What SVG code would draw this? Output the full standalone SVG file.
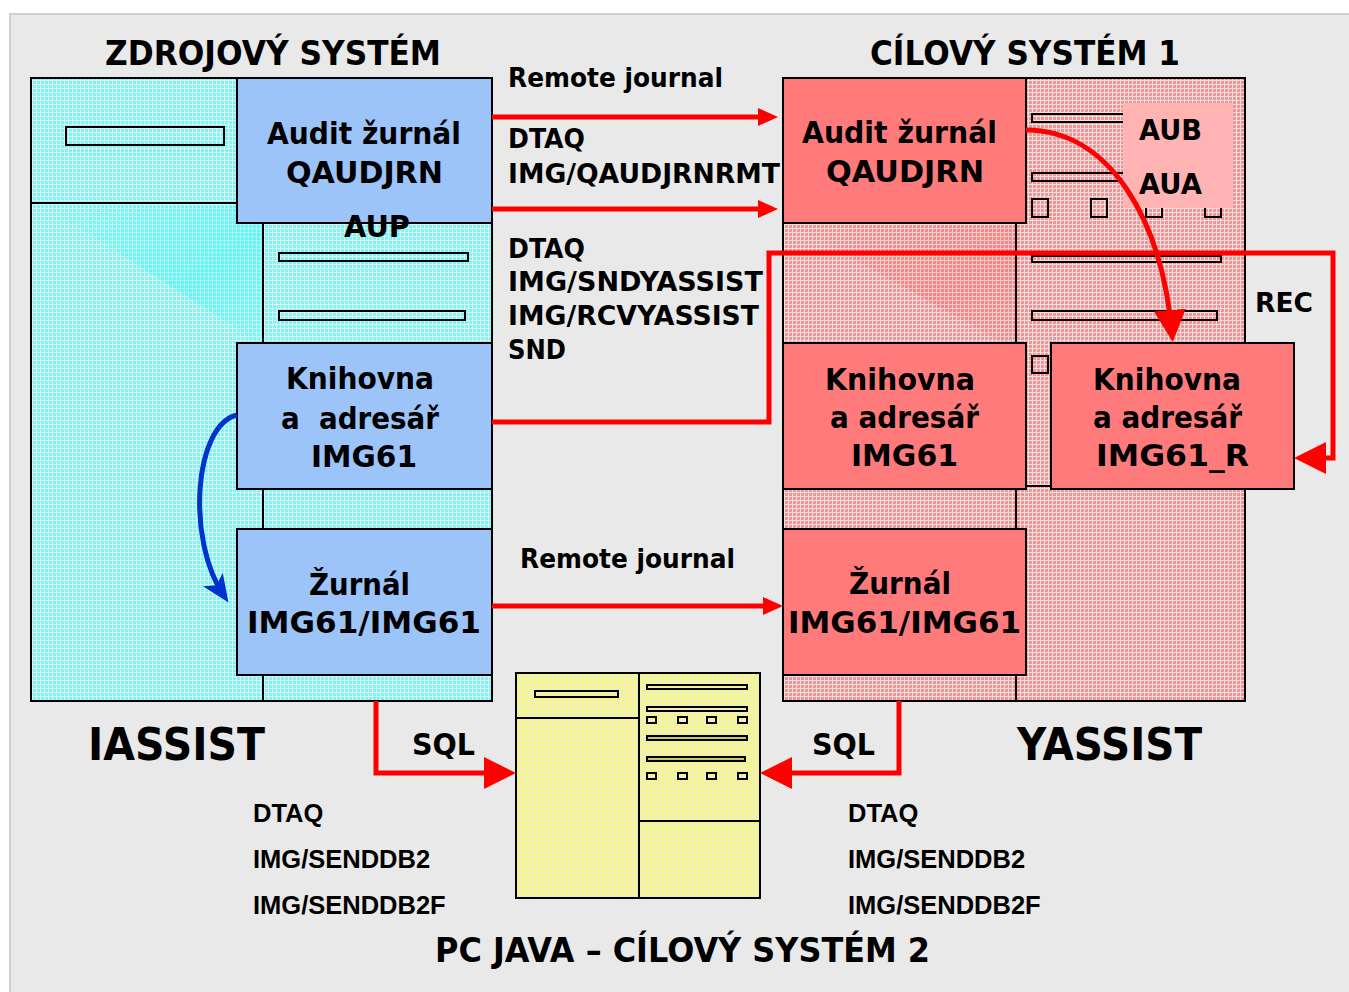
<svg xmlns="http://www.w3.org/2000/svg" width="1349" height="992" viewBox="0 0 1349 992">
<style>
.t{font-family:"DejaVu Sans",Verdana,sans-serif;font-weight:bold;fill:#000}
.a{font-family:"Liberation Sans",Arial,sans-serif;font-weight:bold;font-size:25.5px;fill:#000}
.box{stroke:#000;stroke-width:2}
.blue{fill:#9cc4f9}
.pink{fill:#ff7b7b}
.ln{fill:none;stroke:#000;stroke-width:2}
.bar{stroke:#000;stroke-width:2}
.red{fill:none;stroke:#ff0000;stroke-width:5}
.bx{font-size:30px}
.lb{font-size:27px}
.ti{font-size:34px}
.big{font-size:44px}
.sq{font-size:30px}
</style>
<defs>
<pattern id="pc" width="4" height="4" patternUnits="userSpaceOnUse"><rect width="4" height="4" fill="#80f4f4"/><path d="M0,0.5H4M0.5,0V4" stroke="#d8f4f4" stroke-width="1"/></pattern>
<pattern id="pp" width="4" height="4" patternUnits="userSpaceOnUse"><rect width="4" height="4" fill="#f49393"/><path d="M0,0.5H4M0.5,0V4" stroke="#f5dede" stroke-width="1"/></pattern>
<pattern id="py" width="4" height="4" patternUnits="userSpaceOnUse"><rect width="4" height="4" fill="#f6f67a"/><path d="M0,0.5H4M0.5,0V4" stroke="#eeeed8" stroke-width="1"/></pattern>
<linearGradient id="gc" x1="0" y1="0" x2="1" y2="1"><stop offset="0" stop-color="#00f0f0" stop-opacity="0"/><stop offset="0.6" stop-color="#00f0f0" stop-opacity="0.22"/><stop offset="1" stop-color="#00f0f0" stop-opacity="0.05"/></linearGradient>
<linearGradient id="gp" x1="0" y1="0" x2="1" y2="1"><stop offset="0" stop-color="#ff3030" stop-opacity="0"/><stop offset="0.6" stop-color="#ff3030" stop-opacity="0.15"/><stop offset="1" stop-color="#ff3030" stop-opacity="0.04"/></linearGradient>
<marker id="ms" markerUnits="userSpaceOnUse" markerWidth="20" markerHeight="18" refX="14" refY="9" orient="auto"><path d="M0,0L20,9L0,18z" fill="#ff0000"/></marker>
<marker id="mb" markerUnits="userSpaceOnUse" markerWidth="32" markerHeight="32" refX="24" refY="16" orient="auto"><path d="M0,0L32,16L0,32z" fill="#ff0000"/></marker>
<marker id="mblue" markerUnits="userSpaceOnUse" markerWidth="28" markerHeight="24" refX="20" refY="12" orient="auto"><path d="M0,0L28,12L0,24L7,12z" fill="#0033cc"/></marker>
</defs>
<rect x="0" y="0" width="1349" height="992" fill="#ffffff"/>
<rect x="10" y="14" width="1345" height="985" fill="#e9e9e9" stroke="#cfcfcf" stroke-width="2"/>

<g id="server-left">
<rect x="31" y="78" width="461" height="623" fill="url(#pc)" class="box"/>
<polygon points="45,206 263,206 263,345" fill="url(#gc)"/>
<path d="M31,203H237M263,203V701" class="ln"/>
<rect x="66" y="127" width="158" height="18" fill="url(#pc)" class="bar"/>
<rect x="279" y="253" width="189" height="8" fill="url(#pc)" class="bar"/>
<rect x="279" y="311" width="186" height="9" fill="url(#pc)" class="bar"/>
</g>

<g id="server-right">
<rect x="783" y="78" width="462" height="623" fill="url(#pp)" class="box"/>
<polygon points="795,226 1016,226 1016,350" fill="url(#gp)"/>
<path d="M1016,223V701M1027,486H1051" class="ln"/>
<rect x="1032" y="114" width="120" height="8" fill="url(#pp)" class="bar"/>
<rect x="1032" y="173" width="120" height="8" fill="url(#pp)" class="bar"/>
<rect x="1032" y="199" width="16" height="18" fill="url(#pp)" class="bar"/>
<rect x="1091" y="199" width="16" height="18" fill="url(#pp)" class="bar"/>
<rect x="1146" y="199" width="16" height="18" fill="url(#pp)" class="bar"/>
<rect x="1205" y="199" width="16" height="18" fill="url(#pp)" class="bar"/>
<rect x="1032" y="256" width="189" height="6" fill="url(#pp)" class="bar"/>
<rect x="1032" y="311" width="185" height="9" fill="url(#pp)" class="bar"/>
<rect x="1032" y="356" width="16" height="17" fill="url(#pp)" class="bar"/>
<rect x="1123" y="103" width="110" height="105" fill="#ffb3b3"/>
<text class="t" x="1139" y="140" font-size="28" textLength="63" lengthAdjust="spacingAndGlyphs">AUB</text>
<text class="t" x="1139" y="194" font-size="28" textLength="63" lengthAdjust="spacingAndGlyphs">AUA</text>
</g>

<g id="pc-java">
<rect x="516" y="673" width="244" height="225" fill="url(#py)" class="box"/>
<path d="M639,673V898M516,718H639M639,821H760" class="ln"/>
<rect x="535" y="691" width="83" height="6" fill="url(#py)" class="bar"/>
<rect x="647" y="685" width="100" height="4" fill="url(#py)" class="bar"/>
<rect x="647" y="707" width="100" height="4" fill="url(#py)" class="bar"/>
<rect x="647" y="736" width="100" height="4" fill="#c8c870" class="bar"/>
<rect x="647" y="757" width="98" height="4" fill="#c8c870" class="bar"/>
<rect x="647" y="717" width="9" height="6" fill="url(#py)" class="bar"/>
<rect x="678" y="717" width="9" height="6" fill="url(#py)" class="bar"/>
<rect x="707" y="717" width="9" height="6" fill="url(#py)" class="bar"/>
<rect x="738" y="717" width="9" height="6" fill="url(#py)" class="bar"/>
<rect x="647" y="773" width="9" height="6" fill="url(#py)" class="bar"/>
<rect x="678" y="773" width="9" height="6" fill="url(#py)" class="bar"/>
<rect x="707" y="773" width="9" height="6" fill="url(#py)" class="bar"/>
<rect x="738" y="773" width="9" height="6" fill="url(#py)" class="bar"/>
</g>

<g id="node-audit-left">
<rect x="237" y="78" width="255" height="145" class="box blue"/>
<text class="t bx" x="267" y="144" textLength="194" lengthAdjust="spacingAndGlyphs">Audit žurnál</text>
<text class="t bx" x="286" y="183" textLength="157" lengthAdjust="spacingAndGlyphs">QAUDJRN</text>
</g>
<g id="node-knihovna-left">
<rect x="237" y="343" width="255" height="146" class="box blue"/>
<text class="t bx" x="286" y="389" textLength="148" lengthAdjust="spacingAndGlyphs">Knihovna</text>
<text class="t bx" x="281" y="429" textLength="158" lengthAdjust="spacingAndGlyphs" style="white-space:pre">a  adresář</text>
<text class="t bx" x="311" y="467" textLength="106" lengthAdjust="spacingAndGlyphs">IMG61</text>
</g>
<g id="node-zurnal-left">
<rect x="237" y="529" width="255" height="146" class="box blue"/>
<text class="t bx" x="309" y="595" textLength="101" lengthAdjust="spacingAndGlyphs">Žurnál</text>
<text class="t bx" x="247" y="633" textLength="234" lengthAdjust="spacingAndGlyphs">IMG61/IMG61</text>
</g>
<text class="t bx" x="344" y="237" textLength="66" lengthAdjust="spacingAndGlyphs">AUP</text>

<g id="node-audit-right">
<rect x="783" y="78" width="243" height="145" class="box pink"/>
<text class="t bx" x="802" y="143" textLength="195" lengthAdjust="spacingAndGlyphs">Audit žurnál</text>
<text class="t bx" x="826" y="182" textLength="158" lengthAdjust="spacingAndGlyphs">QAUDJRN</text>
</g>
<g id="node-knihovna-right">
<rect x="783" y="343" width="243" height="146" class="box pink"/>
<text class="t bx" x="825" y="390" textLength="150" lengthAdjust="spacingAndGlyphs">Knihovna</text>
<text class="t bx" x="830" y="428" textLength="149" lengthAdjust="spacingAndGlyphs">a adresář</text>
<text class="t bx" x="851" y="466" textLength="107" lengthAdjust="spacingAndGlyphs">IMG61</text>
</g>
<g id="node-knihovna-r">
<rect x="1051" y="343" width="243" height="146" class="box pink"/>
<text class="t bx" x="1093" y="390" textLength="148" lengthAdjust="spacingAndGlyphs">Knihovna</text>
<text class="t bx" x="1093" y="428" textLength="149" lengthAdjust="spacingAndGlyphs">a adresář</text>
<text class="t bx" x="1096" y="466" textLength="153" lengthAdjust="spacingAndGlyphs">IMG61_R</text>
</g>
<g id="node-zurnal-right">
<rect x="783" y="529" width="243" height="146" class="box pink"/>
<text class="t bx" x="849" y="594" textLength="102" lengthAdjust="spacingAndGlyphs">Žurnál</text>
<text class="t bx" x="788" y="633" textLength="233" lengthAdjust="spacingAndGlyphs">IMG61/IMG61</text>
</g>

<g id="connectors">
<path class="red" d="M492,117H772" marker-end="url(#ms)"/>
<path class="red" d="M492,209H772" marker-end="url(#ms)"/>
<path class="red" d="M492,606H777" marker-end="url(#ms)"/>
<path class="red" d="M492,422H769V253H1333V458H1302" marker-end="url(#mb)"/>
<path class="red" d="M1026,130C1110,130 1162,220 1172,334" marker-end="url(#mb)"/>
<path class="red" d="M376,701V773H508" marker-end="url(#mb)"/>
<path class="red" d="M899,701V773H768" marker-end="url(#mb)"/>
<path d="M237,415C194,425 186,540 224,596" fill="none" stroke="#0033cc" stroke-width="5" marker-end="url(#mblue)"/>
</g>

<g id="labels">
<text class="t ti" x="105" y="65" textLength="336" lengthAdjust="spacingAndGlyphs">ZDROJOVÝ SYSTÉM</text>
<text class="t ti" x="870" y="65" textLength="310" lengthAdjust="spacingAndGlyphs">CÍLOVÝ SYSTÉM 1</text>
<text class="t lb" x="508" y="87" textLength="215" lengthAdjust="spacingAndGlyphs">Remote journal</text>
<text class="t lb" x="508" y="148" textLength="77" lengthAdjust="spacingAndGlyphs">DTAQ</text>
<text class="t lb" x="508" y="183" textLength="272" lengthAdjust="spacingAndGlyphs">IMG/QAUDJRNRMT</text>
<text class="t lb" x="508" y="258" textLength="77" lengthAdjust="spacingAndGlyphs">DTAQ</text>
<text class="t lb" x="508" y="291" textLength="255" lengthAdjust="spacingAndGlyphs">IMG/SNDYASSIST</text>
<text class="t lb" x="508" y="325" textLength="251" lengthAdjust="spacingAndGlyphs">IMG/RCVYASSIST</text>
<text class="t lb" x="508" y="359" textLength="58" lengthAdjust="spacingAndGlyphs">SND</text>
<text class="t lb" x="1255" y="312" textLength="58" lengthAdjust="spacingAndGlyphs">REC</text>
<text class="t lb" x="520" y="568" textLength="215" lengthAdjust="spacingAndGlyphs">Remote journal</text>
<text class="t big" x="88" y="760" textLength="177" lengthAdjust="spacingAndGlyphs">IASSIST</text>
<text class="t big" x="1017" y="760" textLength="185" lengthAdjust="spacingAndGlyphs">YASSIST</text>
<text class="t sq" x="412" y="755" textLength="63" lengthAdjust="spacingAndGlyphs">SQL</text>
<text class="t sq" x="812" y="755" textLength="63" lengthAdjust="spacingAndGlyphs">SQL</text>
<text class="a" x="253" y="822">DTAQ</text>
<text class="a" x="253" y="868">IMG/SENDDB2</text>
<text class="a" x="253" y="914">IMG/SENDDB2F</text>
<text class="a" x="848" y="822">DTAQ</text>
<text class="a" x="848" y="868">IMG/SENDDB2</text>
<text class="a" x="848" y="914">IMG/SENDDB2F</text>
<text class="t ti" x="435" y="962" textLength="495" lengthAdjust="spacingAndGlyphs">PC JAVA – CÍLOVÝ SYSTÉM 2</text>
</g>
</svg>
